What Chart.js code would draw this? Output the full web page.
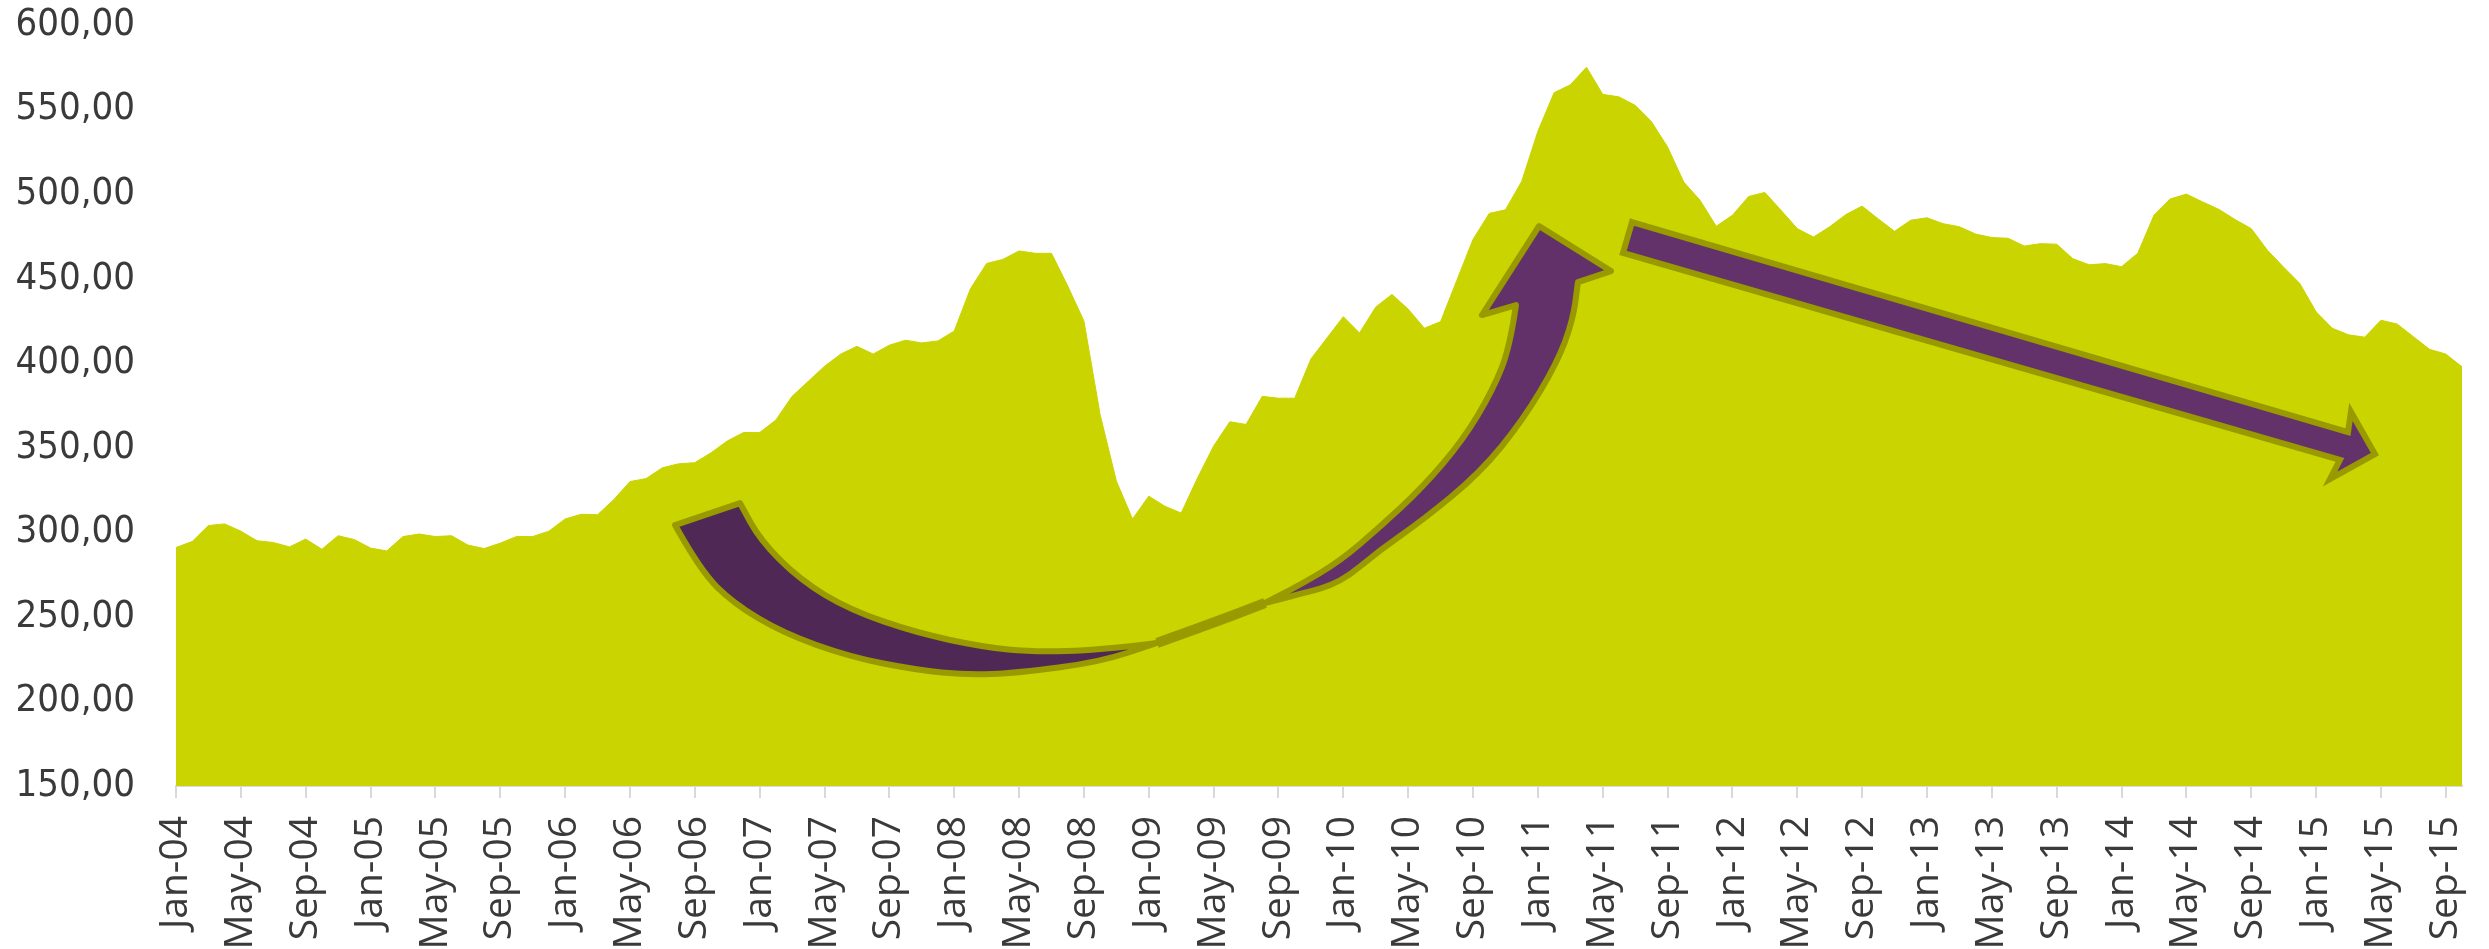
<!DOCTYPE html>
<html>
<head>
<meta charset="utf-8">
<script src="https://cdn.jsdelivr.net/npm/chart.js@4"></script>
<style>
    html, body { margin: 0; padding: 0; background: #ffffff; }
    #wrap { width: 2489px; height: 949px; position: relative; }
</style>
</head>
<body>
<div id="wrap"><canvas id="chart"></canvas></div>
<script>
// month names and years used for the category labels (Jan-04 .. Oct-15)
const MONTHS = ['Jan', 'Feb', 'Mar', 'Apr', 'May', 'Jun', 'Jul', 'Aug', 'Sep', 'Oct', 'Nov', 'Dec'];
const YEARS = ['04', '05', '06', '07', '08', '09', '10', '11', '12', '13', '14', '15'];
const LAST_YEAR_MONTHS = 10; // data stops at Oct-15

// monthly values
const values2004 = [291, 294.6, 304, 305, 300.7, 295, 294, 291.4, 296, 290, 298, 295.7];
const values2005 = [290.7, 289, 297.5, 299, 297.5, 298, 292.5, 290.4, 293.6, 297.5, 297.5, 300.7];
const values2006 = [307.9, 310.7, 310.4, 319.3, 330, 331.8, 338.2, 340.5, 341.2, 347, 354, 359];
const values2007 = [359, 366.4, 380.4, 389.3, 398.2, 405.4, 410, 405.4, 410.7, 413.6, 412, 413.2];
const values2008 = [419, 444, 459, 461.4, 466.4, 465, 465, 445.7, 425, 369.6, 330.4, 307.9];
const values2009 = [321.4, 315.4, 311.4, 332, 351, 365.4, 363.8, 380.4, 379.3, 379.3, 402.5, 415];
const values2010 = [427.5, 417.9, 433.2, 440.7, 432, 420.7, 424.6, 449, 473.2, 488.6, 490.7, 507.5];
const values2011 = [537.1, 560, 564.6, 575, 559, 557.5, 552.5, 542.9, 527.9, 507.1, 496.4, 481];
const values2012 = [487.5, 498.6, 501, 490.4, 479.6, 474.6, 480.7, 487.9, 492.9, 485.3, 478, 484.6];
const values2013 = [486, 482.5, 480.7, 476.4, 474.3, 473.9, 469.3, 470.7, 470.4, 461.8, 458.2, 458.9];
const values2014 = [457.1, 465, 487.5, 497.1, 500, 495.4, 491, 485, 479.6, 466.8, 456.8, 447.1];
const values2015 = [430.4, 420.7, 416.8, 415.4, 425.4, 423.2, 415.7, 408.2, 405.4, 397.9];

// y axis
const Y_MIN = 150;
const Y_MAX = 600;
const Y_STEP = 50;

const labels = [];
YEARS.forEach(function(yr, i) {
    const n = (i === YEARS.length - 1) ? LAST_YEAR_MONTHS : 12;
    for (let m = 0; m < n; m++) {
        labels.push(MONTHS[m] + '-' + yr);
    }
});

const values = [].concat(values2004, values2005, values2006, values2007, values2008, values2009,
    values2010, values2011, values2012, values2013, values2014, values2015);

// arrow outlines, given as [month index, value] so they sit on the chart's scales
const curveBackOuter = [[30.78, 304.3], [32.32, 277.7], [34.36, 258.2], [37.44, 240.5], [41.57, 226.3],
    [45.70, 218.6], [48.79, 215.6], [51.87, 216.8], [56.99, 223.3], [60.51, 234.6]];
const curveBackInner = [[60.51, 234.6], [56.99, 230.4], [52.86, 229.2], [49.78, 232.2], [45.70, 240.5],
    [41.57, 254.1], [38.49, 271.8], [36.02, 295.5], [34.79, 317.3]];
const curveJoin = [[60.51, 234.6], [63.96, 246.4], [67.17, 258.2]];
const curveFrontLower = [[67.17, 258.2], [69.33, 263.5], [71.80, 270.0], [74.26, 289.6], [76.91, 307.3],
    [80.43, 335.1], [83.08, 366.4], [85.18, 400.1], [86.17, 425.6], [86.47, 448.0]];
const curveHead = [[88.51, 454.5], [84.07, 481.1], [80.55, 428.5], [82.65, 434.4]];
const curveFrontUpper = [[82.65, 434.4], [82.28, 409.6], [81.23, 384.2], [79.38, 354.6], [76.91, 326.8],
    [74.26, 303.2], [71.80, 283.0], [69.33, 268.9], [67.17, 258.2]];
const straightArrow = [[89.81, 483.5], [133.97, 359.3], [134.15, 371.2], [135.63, 346.3],
    [132.86, 331.5], [133.47, 342.8], [89.25, 465.2]];

function smoothTo(ctx, pts) {
    // current point must already be pts[0]
    for (let i = 1; i < pts.length - 1; i++) {
        const mx = (pts[i][0] + pts[i + 1][0]) / 2;
        const my = (pts[i][1] + pts[i + 1][1]) / 2;
        ctx.quadraticCurveTo(pts[i][0], pts[i][1], mx, my);
    }
    const last = pts[pts.length - 1];
    ctx.lineTo(last[0], last[1]);
}

const arrowPlugin = {
    id: 'arrows',
    afterDatasetsDraw(chart) {
        const ctx = chart.ctx;
        const xs = chart.scales.x;
        const ys = chart.scales.y;
        const toPx = function(list) {
            return list.map(function(p) { return [xs.getPixelForValue(p[0]), ys.getPixelForValue(p[1])]; });
        };
        ctx.save();
        ctx.lineWidth = 6;
        ctx.strokeStyle = '#999900';
        ctx.lineJoin = 'round';

        // back part of the curved arrow
        const bo = toPx(curveBackOuter);
        const bi = toPx(curveBackInner);
        ctx.beginPath();
        ctx.moveTo(bi[bi.length - 1][0], bi[bi.length - 1][1]);
        ctx.lineTo(bo[0][0], bo[0][1]);
        smoothTo(ctx, bo);
        smoothTo(ctx, bi);
        ctx.closePath();
        ctx.fillStyle = '#4f2856';
        ctx.fill();
        ctx.stroke();

        // twist between back and front
        const jn = toPx(curveJoin);
        ctx.beginPath();
        ctx.moveTo(jn[0][0], jn[0][1]);
        smoothTo(ctx, jn);
        ctx.lineWidth = 10;
        ctx.stroke();
        ctx.lineWidth = 6;

        // front part with the head
        const fl = toPx(curveFrontLower);
        const hd = toPx(curveHead);
        const fu = toPx(curveFrontUpper);
        ctx.beginPath();
        ctx.moveTo(fl[0][0], fl[0][1]);
        smoothTo(ctx, fl);
        hd.forEach(function(p) { ctx.lineTo(p[0], p[1]); });
        smoothTo(ctx, fu);
        ctx.closePath();
        ctx.fillStyle = '#633169';
        ctx.fill();
        ctx.stroke();

        // straight arrow
        const sa = toPx(straightArrow);
        ctx.beginPath();
        ctx.moveTo(sa[0][0], sa[0][1]);
        for (let i = 1; i < sa.length; i++) {
            ctx.lineTo(sa[i][0], sa[i][1]);
        }
        ctx.closePath();
        ctx.lineJoin = 'miter';
        ctx.miterLimit = 10;
        ctx.fillStyle = '#63326a';
        ctx.fill();
        ctx.stroke();
        ctx.restore();
    }
};

new Chart(document.getElementById('chart'), {
    type: 'line',
    data: {
        labels: labels,
        datasets: [{
            data: values,
            fill: 'start',
            backgroundColor: '#cad400',
            borderColor: '#cad400',
            borderWidth: 1,
            pointRadius: 0,
            tension: 0
        }]
    },
    options: {
        responsive: true,
        maintainAspectRatio: false,
        animation: false,
        layout: {
            padding: { top: 25, right: 27, left: 0, bottom: 0 }
        },
        plugins: {
            legend: { display: false },
            tooltip: { enabled: false }
        },
        scales: {
            x: {
                type: 'category',
                offset: false,
                grid: {
                    display: true,
                    drawOnChartArea: false,
                    drawTicks: true,
                    tickLength: 12,
                    lineWidth: 2,
                    color: function(c) {
                        return c.index % 4 === 0 ? '#d9d9d9' : 'rgba(0,0,0,0)';
                    }
                },
                border: { display: true, color: '#d9d9d9', width: 2 },
                ticks: {
                    autoSkip: false,
                    minRotation: 90,
                    maxRotation: 90,
                    padding: 18,
                    color: '#3a3a3a',
                    font: { family: "'Open Sans', sans-serif", size: 39 },
                    callback: function(v, i) {
                        return i % 4 === 0 ? labels[i] : '';
                    }
                },
                afterFit: function(scale) {
                    scale.height = 163;
                    scale.paddingLeft = 0;
                    scale.paddingRight = 0;
                }
            },
            y: {
                min: Y_MIN,
                max: Y_MAX,
                grid: { display: false, drawTicks: false },
                border: { display: false },
                ticks: {
                    stepSize: Y_STEP,
                    padding: 41,
                    color: '#3a3a3a',
                    font: { family: "'DejaVu Sans Condensed', 'DejaVu Sans', sans-serif", size: 38 },
                    callback: function(v) {
                        return v.toFixed(2).replace('.', ',');
                    }
                },
                afterFit: function(scale) {
                    scale.width = 176;
                    scale.paddingTop = 0;
                    scale.paddingBottom = 0;
                }
            }
        }
    },
    plugins: [arrowPlugin]
});
</script>
</body>
</html>
